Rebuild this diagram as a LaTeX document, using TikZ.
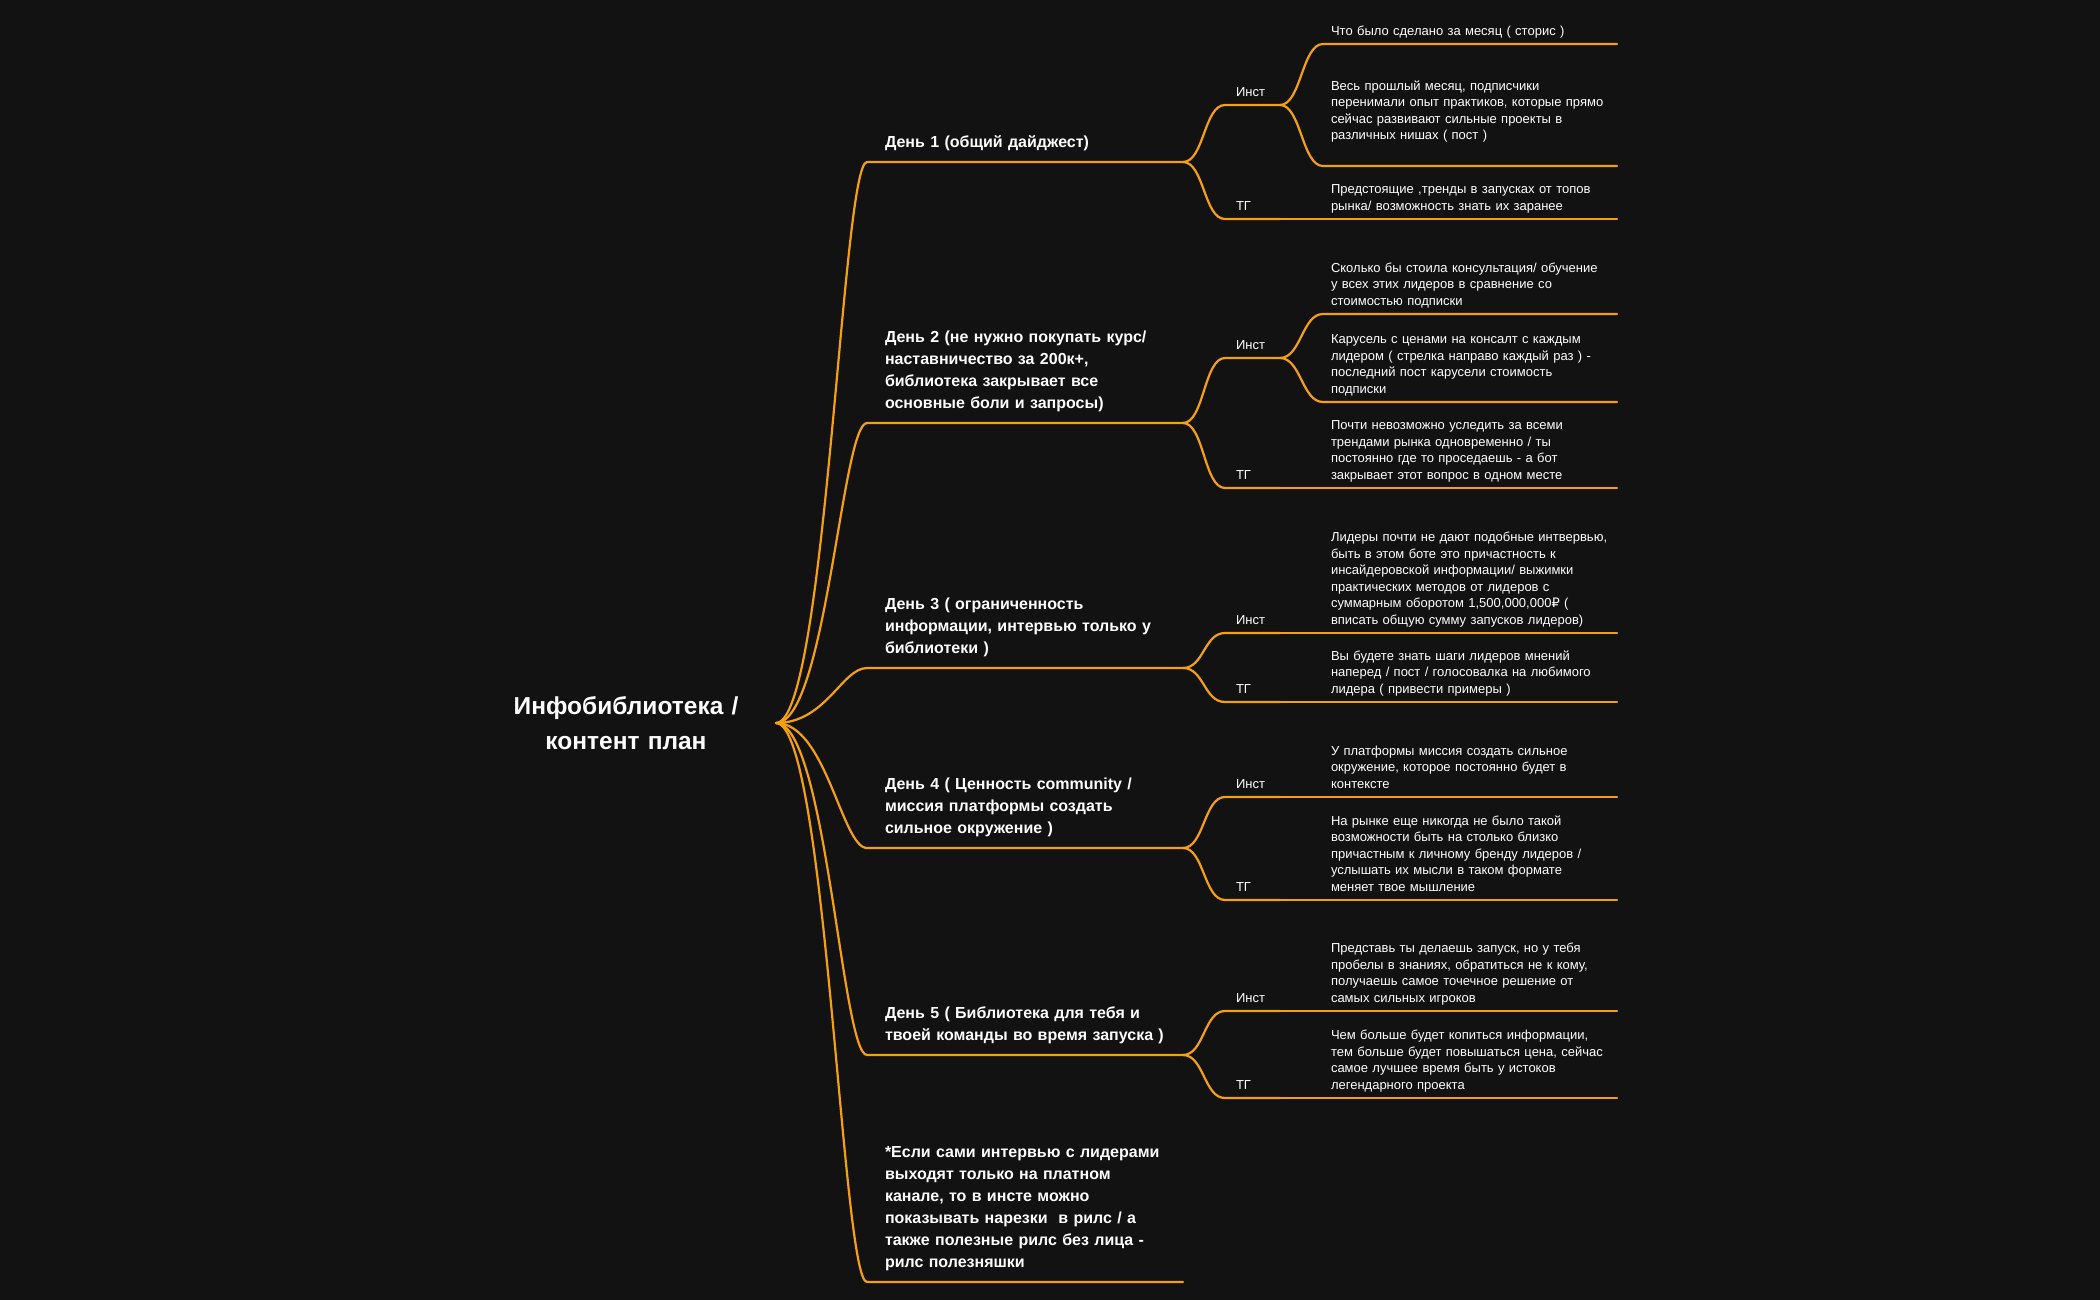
\documentclass[tikz,border=0pt]{standalone}
\usepackage{fontspec}
\setmainfont{Liberation Sans}
\newfontfamily\rubfont{DejaVu Sans}
\definecolor{bgc}{HTML}{121212}
\definecolor{orng}{HTML}{F5A00F}
\newcommand\leaffont{\fontsize{13}{16.5}\selectfont}
\newcommand\dayfont{\bfseries\fontsize{16}{22}\selectfont}
\newcommand\rootfont{\bfseries\fontsize{24.5}{35}\selectfont}
\begin{document}
\begin{tikzpicture}[x=1pt,y=-1pt,
  conn/.style={draw=orng,line width=2.2pt,line cap=round},
  rootbox/.style={anchor=east, text=white, font=\rootfont, align=center, text width=240pt, inner xsep=30pt, inner ysep=0pt, outer sep=0pt},
  daybox/.style={anchor=south west, text=white, font=\dayfont, align=left, text width=280pt, inner xsep=18pt, inner ysep=8.2pt, outer sep=0pt, execute at end node=\strut},
  subbox/.style={anchor=south west, text=white, font=\leaffont, align=left, text width=33pt, inner xsep=11pt, inner ysep=4pt, outer sep=0pt, execute at end node=\strut},
  leafbox/.style={anchor=south west, text=white, font=\leaffont, align=left, text width=278pt, inner xsep=8pt, inner ysep=4pt, outer sep=0pt, execute at end node=\strut},
]
\fill[bgc] (0,0) rectangle (2100,1300);
\useasboundingbox (0,0) rectangle (2100,1300);

\node[rootbox] (root) at (776,723) {Инфобиблиотека /\\контент план};

\node[daybox] (d1) at (867,162) {День 1 (общий дайджест)};
\node[daybox] (d2) at (867,423) {День 2 (не нужно покупать курс/\\наставничество за 200к+,\\библиотека закрывает все\\основные боли и запросы)};
\node[daybox] (d3) at (867,668) {День 3 ( ограниченность\\информации, интервью только у\\библиотеки )};
\node[daybox] (d4) at (867,848) {День 4 ( Ценность community /\\миссия платформы создать\\сильное окружение )};
\node[daybox] (d5) at (867,1055) {День 5 ( Библиотека для тебя и\\твоей команды во время запуска )};
\node[daybox] (d6) at (867,1282) {*Если сами интервью с лидерами\\выходят только на платном\\канале, то в инсте можно\\показывать нарезки \ в рилс / а\\также полезные рилс без лица -\\рилс полезняшки};

\node[subbox] (i1) at (1225,105) {Инст};
\node[subbox] (t1) at (1225,219) {ТГ};
\node[subbox] (i2) at (1225,358) {Инст};
\node[subbox] (t2) at (1225,488) {ТГ};
\node[subbox] (i3) at (1225,633) {Инст};
\node[subbox] (t3) at (1225,702) {ТГ};
\node[subbox] (i4) at (1225,797) {Инст};
\node[subbox] (t4) at (1225,900) {ТГ};
\node[subbox] (i5) at (1225,1011) {Инст};
\node[subbox] (t5) at (1225,1098) {ТГ};

\node[leafbox] (l1a) at (1323,44) {Что было сделано за месяц ( сторис )};
\node[leafbox] (l1b) at (1323,166) {Весь прошлый месяц, подписчики\\перенимали опыт практиков, которые прямо\\сейчас развивают сильные проекты в\\различных нишах ( пост )\rule[-22pt]{0pt}{0pt}};
\node[leafbox] (l1t) at (1323,219) {Предстоящие ,тренды в запусках от топов\\рынка/ возможность знать их заранее};
\node[leafbox] (l2a) at (1323,314) {Сколько бы стоила консультация/ обучение\\у всех этих лидеров в сравнение со\\стоимостью подписки};
\node[leafbox] (l2b) at (1323,402) {Карусель с ценами на консалт с каждым\\лидером ( стрелка направо каждый раз ) -\\последний пост карусели стоимость\\подписки};
\node[leafbox] (l2t) at (1323,488) {Почти невозможно уследить за всеми\\трендами рынка одновременно / ты\\постоянно где то проседаешь - а бот\\закрывает этот вопрос в одном месте};
\node[leafbox] (l3i) at (1323,633) {Лидеры почти не дают подобные интвервью,\\быть в этом боте это причастность к\\инсайдеровской информации/ выжимки\\практических методов от лидеров с\\суммарным оборотом 1,500,000,000{\rubfont ₽} (\\вписать общую сумму запусков лидеров)};
\node[leafbox] (l3t) at (1323,702) {Вы будете знать шаги лидеров мнений\\наперед / пост / голосовалка на любимого\\лидера ( привести примеры )};
\node[leafbox] (l4i) at (1323,797) {У платформы миссия создать сильное\\окружение, которое постоянно будет в\\контексте};
\node[leafbox] (l4t) at (1323,900) {На рынке еще никогда не было такой\\возможности быть на столько близко\\причастным к личному бренду лидеров /\\услышать их мысли в таком формате\\меняет твое мышление};
\node[leafbox] (l5i) at (1323,1011) {Представь ты делаешь запуск, но у тебя\\пробелы в знаниях, обратиться не к кому,\\получаешь самое точечное решение от\\самых сильных игроков};
\node[leafbox] (l5t) at (1323,1098) {Чем больше будет копиться информации,\\тем больше будет повышаться цена, сейчас\\самое лучшее время быть у истоков\\легендарного проекта};

\foreach \d in {d1,d2,d3,d4,d5,d6}
  \draw[conn] (root.east) .. controls +(50,0) and +(-25,0) .. (\d.south west) -- (\d.south east);
\foreach \d/\s in {d1/i1,d1/t1,d2/i2,d2/t2,d3/i3,d3/t3,d4/i4,d4/t4,d5/i5,d5/t5}
  \draw[conn] (\d.south east) .. controls +(21,0) and +(-21,0) .. (\s.south west) -- (\s.south east);
\foreach \s/\l in {i1/l1a,i1/l1b,t1/l1t,i2/l2a,i2/l2b,t2/l2t,i3/l3i,t3/l3t,i4/l4i,t4/l4t,i5/l5i,t5/l5t}
  \draw[conn] (\s.south east) .. controls +(21,0) and +(-21,0) .. (\l.south west) -- (\l.south east);
\end{tikzpicture}
\end{document}
